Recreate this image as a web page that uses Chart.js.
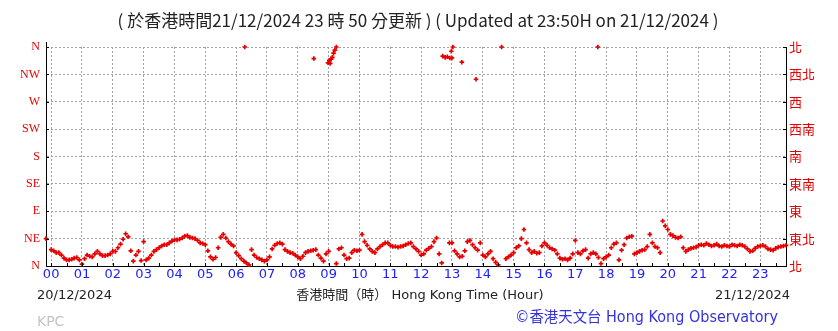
<!DOCTYPE html>
<html><head><meta charset="utf-8">
<script src="https://cdn.jsdelivr.net/npm/chart.js@4"></script>
<style>html,body{margin:0;padding:0;background:#fff;overflow:hidden}#wrap{position:relative;width:838px;height:331px}</style>
</head><body><div id="wrap"><canvas id="c" width="838" height="331"></canvas></div>
<script>
// Wind direction (degrees) read every 5 minutes, starting 20/12/2024 23:50 (-10 min)
const startMinute = -10;
const stepMinutes = 5;
const dirBefore = [45, null];
const dir00to05 = [
  27,25,22,22,18,13,10,10,11,13,14,10,
  3,12,18,16,15,20,24,20,17,17,18,20,
  24,24,30,36,44,53,48,25,8,18,24,9,
  40,10,13,18,24,27,30,33,35,35,38,41,
  43,43,44,46,49,50,47,46,45,42,38,37,
  35,25,15,11,14,30,47,52,46,40,36,33];
const dir06to11 = [
  22,17,12,8,5,2,27,18,14,12,10,8,
  10,15,28,34,37,38,36,27,24,22,21,18,
  15,12,16,22,24,25,26,27,18,13,8,20,
  24,null,null,4,28,30,18,12,13,22,26,25,
  26,52,40,34,28,24,22,28,32,35,38,38,
  34,32,32,31,32,33,35,37,38,32,28,24];
const dir12to17 = [
  18,20,26,29,32,40,46,20,5,null,null,38,
  38,25,20,15,16,25,40,42,35,30,26,38,
  18,15,20,24,12,6,2,null,null,12,15,18,
  22,30,33,45,60,38,27,22,24,21,22,33,
  38,34,30,28,26,20,13,11,12,10,13,20,
  42,22,20,25,27,13,20,22,20,14,4,12];
const dir18to23 = [
  15,18,30,36,38,10,26,35,46,48,49,20,
  22,24,26,27,32,52,38,32,30,22,74,66,
  60,52,50,47,46,48,30,24,27,29,30,31,
  34,35,34,37,35,33,34,36,33,32,34,33,
  32,35,34,33,35,34,32,28,24,25,29,32,
  33,34,32,28,27,26,29,31,32,33,34];
// readings close to north (wrapped near 360 degrees)
const northHours = [6.28, 8.52, 8.98, 9.02, 9.05, 9.08, 9.12, 9.16, 9.2, 9.25, 12.7, 12.78, 12.85, 12.93, 12.98, 13.0, 13.03, 13.32, 13.78, 14.61, 17.73];
const northDirs  = [360, 341, 334, 338, 333, 340, 343, 350, 355, 360, 345, 343, 344, 342, 353, 342, 360, 335, 307, 360, 360];
const hourLabels = ['00','01','02','03','04','05','06','07','08','09','10','11','12','13','14','15','16','17','18','19','20','21','22','23'];
const compassEn = ['N','NE','E','SE','S','SW','W','NW','N'];
const compassZh = ['北','東北','東','東南','南','西南','西','西北','北'];

const allDirs = dirBefore.concat(dir00to05, dir06to11, dir12to17, dir18to23);
const mainPts = [];
allDirs.forEach((v, i) => { if (v !== null) mainPts.push({x: (startMinute + i * stepMinutes) / 60, y: v}); });
const northPts = northHours.map((h, i) => ({x: h, y: northDirs[i]}));

const RED = '#e60000';
const gridCol = '#a0a0a0';

const extras = {
  id: 'extras',
  afterDraw(chart) {
    const ctx = chart.ctx;
    const xs = chart.scales.x, ys = chart.scales.y;
    const ca = chart.chartArea;
    ctx.save();
    // inside tick marks
    ctx.strokeStyle = '#000'; ctx.lineWidth = 1;
    ctx.beginPath();
    for (let h = 0; h <= 23.5; h += 0.5) {
      const px = Math.round(xs.getPixelForValue(h)) + 0.5;
      ctx.moveTo(px, ca.bottom); ctx.lineTo(px, ca.bottom - 3);
    }
    for (let k = 0; k < compassEn.length; k++) {
      const py = Math.round(ys.getPixelForValue(k * 45)) + 0.5;
      ctx.moveTo(ca.left, py); ctx.lineTo(ca.left + 3, py);
      ctx.moveTo(ca.right, py); ctx.lineTo(ca.right - 3, py);
    }
    ctx.moveTo(Math.round(ca.left) + 0.5, ca.top); ctx.lineTo(Math.round(ca.left) + 0.5, ca.top - 5);
    ctx.stroke();
    // texts
    ctx.textBaseline = 'middle';
    ctx.fillStyle = '#222';
    ctx.textAlign = 'center';
    ctx.font = '17px "Noto Sans CJK TC", "DejaVu Sans"';
    ctx.fillText('( 於香港時間21/12/2024 23 時 50 分更新 ) ( Updated at 23:50H on 21/12/2024 )', 418, 21, 610);
    ctx.font = '13px "DejaVu Sans", "Noto Sans CJK TC"';
    ctx.fillText('香港時間（時） Hong Kong Time (Hour)', 420, 296, 252);
    ctx.textAlign = 'left';
    ctx.fillText('20/12/2024', 37, 296);
    ctx.textAlign = 'right';
    ctx.fillText('21/12/2024', 790, 296);
    ctx.textAlign = 'left';
    ctx.fillStyle = '#c4c4c4';
    ctx.font = '14px "DejaVu Sans"';
    ctx.fillText('KPC', 37, 322);
    ctx.fillStyle = '#3333dd';
    ctx.font = '15px "DejaVu Sans", "Noto Sans CJK TC"';
    ctx.fillText('©香港天文台 Hong Kong Observatory', 515, 318, 263);
    ctx.restore();
  }
};

new Chart(document.getElementById('c'), {
  type: 'scatter',
  data: {
    datasets: [
      {data: mainPts, pointStyle: 'cross', pointRadius: 2.3, borderColor: RED, borderWidth: 1.7, showLine: false, clip: 6},
      {data: northPts, pointStyle: 'cross', pointRadius: 2.3, borderColor: RED, borderWidth: 1.7, showLine: false, clip: 6}
    ]
  },
  options: {
    responsive: false, animation: false, devicePixelRatio: 1,
    layout: {padding: {top: 47, left: 0, right: 0, bottom: 0}},
    plugins: {legend: {display: false}, tooltip: {enabled: false}},
    scales: {
      x: {
        type: 'linear', position: 'bottom', min: -1/6, max: 23 + 50/60,
        afterBuildTicks: s => { s.ticks = hourLabels.map((_, i) => ({value: i})); },
        afterFit: s => { s.height = 65; },
        grid: {color: gridCol, lineWidth: 1, drawTicks: false},
        border: {display: true, color: '#000', width: 1, dash: [2, 2]},
        ticks: {autoSkip: false, maxRotation: 0, padding: 1, color: '#2020ff',
          font: {family: 'DejaVu Sans', size: 13}, callback: v => hourLabels[v]}
      },
      y: {
        type: 'linear', position: 'left', min: 0, max: 360,
        afterBuildTicks: s => { s.ticks = compassEn.map((_, i) => ({value: i * 45})); },
        afterFit: s => { s.width = 46; },
        grid: {color: gridCol, lineWidth: 1, drawTicks: false},
        border: {display: true, color: '#000', width: 1, dash: [2, 2]},
        ticks: {padding: 6, color: RED, font: {family: 'Liberation Serif', size: 12},
          callback: v => compassEn[Math.round(v / 45)]}
      },
      y2: {
        type: 'linear', position: 'right', min: 0, max: 360,
        afterBuildTicks: s => { s.ticks = compassZh.map((_, i) => ({value: i * 45})); },
        afterFit: s => { s.width = 52; },
        grid: {drawOnChartArea: false, drawTicks: false},
        border: {display: true, color: '#000', width: 1},
        ticks: {padding: 3, color: RED, font: {family: 'Noto Sans CJK TC', size: 13},
          callback: v => compassZh[Math.round(v / 45)]}
      }
    }
  },
  plugins: [extras]
});
</script></body></html>
